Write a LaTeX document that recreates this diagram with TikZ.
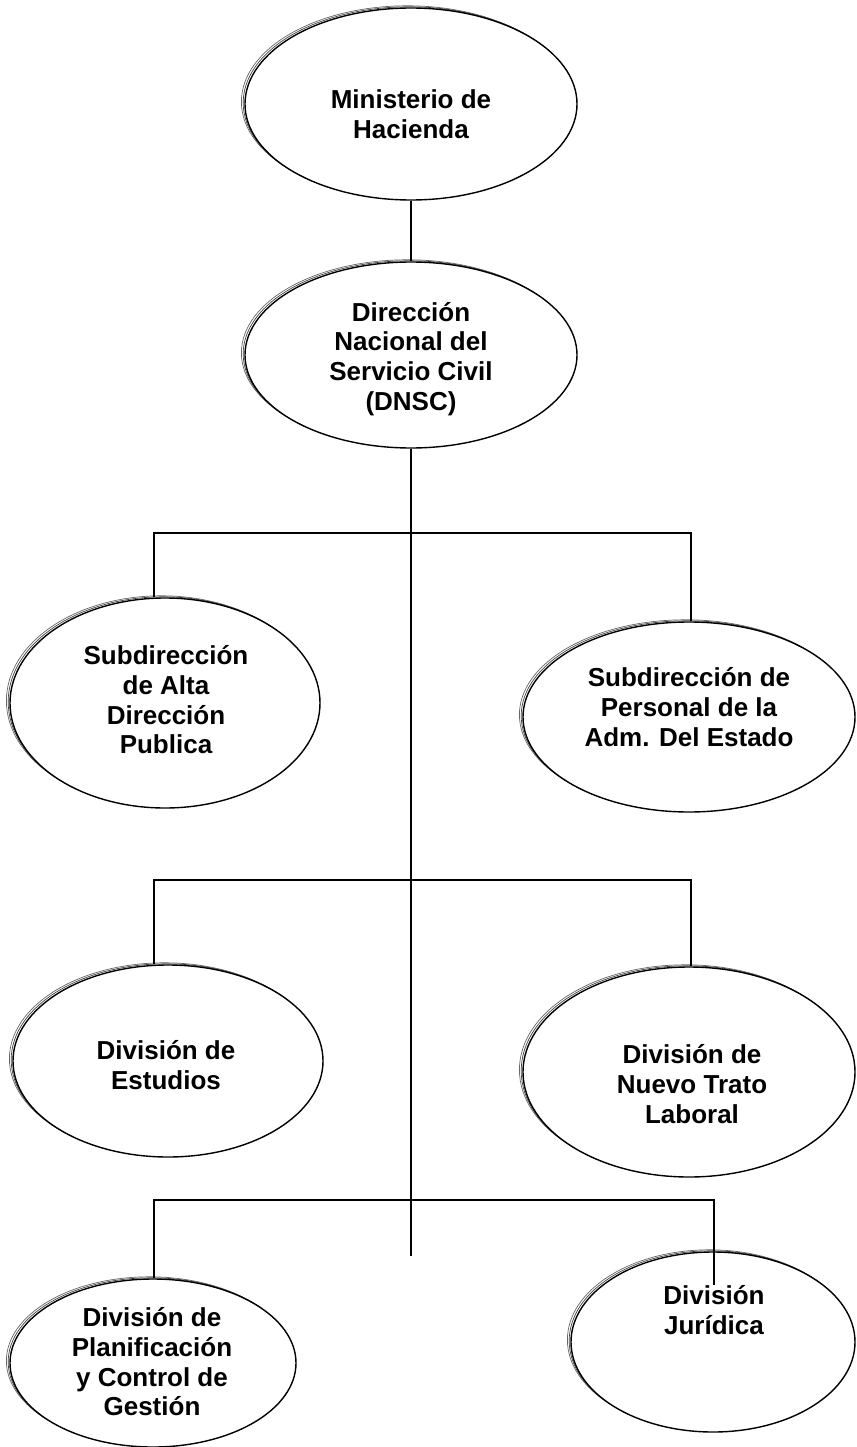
\documentclass[tikz,border=0pt]{standalone}
\usepackage{fontspec}
\setmainfont{Liberation Sans}
\usetikzlibrary{shapes.geometric}
\begin{document}
\begin{tikzpicture}[x=1pt,y=-1pt,
  oval/.style={ellipse, draw=black, line width=1.4pt, inner sep=0pt, fill=white,
    preaction={draw=black!75, line width=0.7pt, transform canvas={shift={(-1.8pt,1.2pt)}}},
    preaction={draw=black!60, line width=0.7pt, transform canvas={shift={(-3.6pt,2.2pt)}}}},
  lbl/.style={align=center, font=\bfseries\fontsize{26}{29.7}\selectfont, inner sep=0pt},
  conn/.style={line width=1.3pt, draw=black}]
\useasboundingbox (0,0) rectangle (856,1447);

% ovals
\node[oval, minimum width=332pt, minimum height=192pt] (min) at (411,104) {};
\node[oval, minimum width=332pt, minimum height=186pt] (dnsc) at (411,355) {};
\node[oval, minimum width=310pt, minimum height=210pt] (sad) at (165,703) {};
\node[oval, minimum width=332pt, minimum height=190pt] (spa) at (689,717) {};
\node[oval, minimum width=310pt, minimum height=192pt] (est) at (168,1061) {};
\node[oval, minimum width=332pt, minimum height=210pt] (ntl) at (689,1072) {};
\node[oval, minimum width=286pt, minimum height=168pt] (plan) at (153,1363) {};
\node[oval, minimum width=284pt, minimum height=180pt] (jur) at (713,1342) {};

% labels
\node[lbl] (tmin) at (411,114) {Ministerio de\\Hacienda};
\node[lbl] (tdnsc) at (411,359) {Dirección\\Nacional del\\Servicio Civil\\(DNSC)};
\node[lbl] (tsad) at (166,700) {Subdirección\\de Alta\\Dirección\\Publica};
\node[lbl] (tspa) at (689,707) {Subdirección de\\Personal de la\\Adm. Del Estado};
\node[lbl] (test) at (166,1065) {División de\\Estudios};
\node[lbl] (tntl) at (692,1084) {División de\\Nuevo Trato\\Laboral};
\node[lbl] (tplan) at (152,1362) {División de\\Planificación\\y Control de\\Gestión};
\node[lbl] (tjur) at (714,1310) {División\\Jurídica};

% coordinates of the connector tree
\coordinate (trunkend) at (411,1256);
\coordinate (h1l) at (154,533);
\coordinate (h1r) at (691,533);
\coordinate (h2l) at (154,880);
\coordinate (h2r) at (691,880);
\coordinate (h3l) at (154,1200);
\coordinate (h3r) at (714,1200);
\coordinate (jurin) at (714,1285);

% connectors
\draw[conn] (min.south) -- (dnsc.north);
\draw[conn] (dnsc.south) -- (trunkend);
\draw[conn] (h1l |- sad.north) -- (h1l) -- (h1r) -- (h1r |- spa.north);
\draw[conn] (h2l |- est.north) -- (h2l) -- (h2r) -- (h2r |- ntl.north);
\draw[conn] (h3l |- plan.north) -- (h3l) -- (h3r) -- (jurin);
\end{tikzpicture}
\end{document}
